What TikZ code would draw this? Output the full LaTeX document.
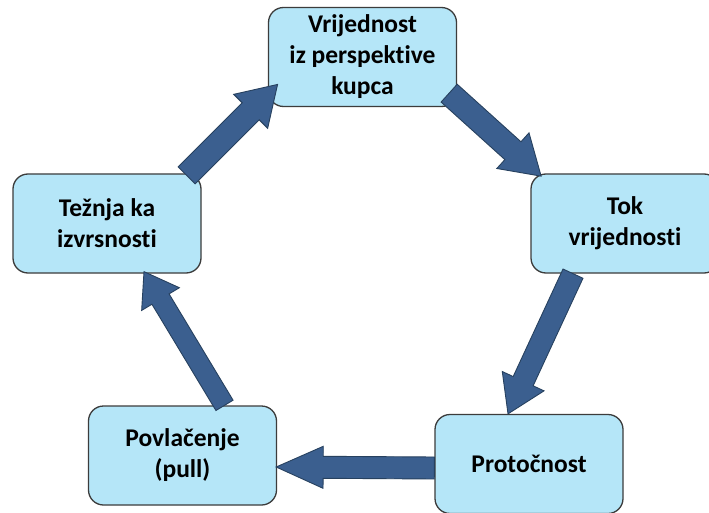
\documentclass[tikz,border=0pt]{standalone}
\usepackage{fontspec}
\setmainfont{Carlito}[Ligatures=CommonOff]
\usetikzlibrary{calc}
\definecolor{boxfill}{HTML}{B5E6F8}
\definecolor{boxline}{HTML}{3C3C3C}
\definecolor{arrfill}{HTML}{3B5F8F}
\definecolor{arrline}{HTML}{27415F}
\tikzset{
  stepbox/.style={draw=boxline, line width=1.3pt, fill=boxfill, rounded corners=15pt,
    minimum width=188pt, minimum height=99pt, align=center, inner sep=2pt,
    font=\fontsize{25.5}{31}\selectfont\bfseries, text=black},
  arrowbody/.style={draw=arrline, line width=0.9pt, fill=arrfill, line join=miter}
}
% #1 tail, #2 tip, #3 shaft half width, #4 head half width, #5 head length
\newcommand\blockarr[5]{%
  \draw[arrowbody] let \p1=(#1), \p2=(#2),
    \n1={atan2(\y2-\y1,\x2-\x1)}, \n2={veclen(\x2-\x1,\y2-\y1)} in
    ([shift={(\p1)},rotate=\n1]0pt,-#3)
    -- ([shift={(\p1)},rotate=\n1]{\n2-#5},-#3)
    -- ([shift={(\p1)},rotate=\n1]{\n2-#5},-#4)
    -- ([shift={(\p1)},rotate=\n1]{\n2},0pt)
    -- ([shift={(\p1)},rotate=\n1]{\n2-#5},#4)
    -- ([shift={(\p1)},rotate=\n1]{\n2-#5},#3)
    -- ([shift={(\p1)},rotate=\n1]0pt,#3) -- cycle;}
\begin{document}
\begin{tikzpicture}[x=1pt,y=-1pt]
\useasboundingbox (0,0) rectangle (709,513);
\fill[white] (0,0) rectangle (709,513);
\clip (0,0) rectangle (709,513);

\node[stepbox] (vrij) at (362.5,57) {Vrijednost\\iz perspektive\\kupca};
\node[stepbox] (tok) at (625,223.5) {Tok\\vrijednosti};
\node[stepbox] (prot) at (529,464) {Protočnost};
\node[stepbox] (povl) at (182.5,455.5) {Povlačenje\\(pull)};
\node[stepbox] (tezn) at (107,223.5) {Težnja ka\\izvrsnosti};

\coordinate (a1s) at ($(tezn.north east)+(-15,2)$);
\coordinate (a1e) at ($(vrij.south west)+(10,-23)$);
\coordinate (a2s) at ($(vrij.south east)+(-8,-14)$);
\coordinate (a2e) at ($(tok.north west)+(11,3)$);
\coordinate (a3s) at ($(tok.south)+(-52,0)$);
\coordinate (a3e) at ($(prot.north)+(-21,0)$);
\coordinate (a4s) at ($(prot.west)+(0,4)$);
\coordinate (a4e) at ($(povl.east)+(-1,11.5)$);
\coordinate (a5s) at ($(povl.north)+(42,0)$);
\coordinate (a5e) at ($(tezn.south)+(37,-2)$);

\blockarr{a1s}{a1e}{12pt}{24pt}{38pt}
\blockarr{a2s}{a2e}{12pt}{24pt}{38pt}
\blockarr{a3s}{a3e}{11pt}{23pt}{36pt}
\blockarr{a4s}{a4e}{11pt}{21pt}{47pt}
\blockarr{a5s}{a5e}{10pt}{22pt}{32pt}
\end{tikzpicture}
\end{document}
